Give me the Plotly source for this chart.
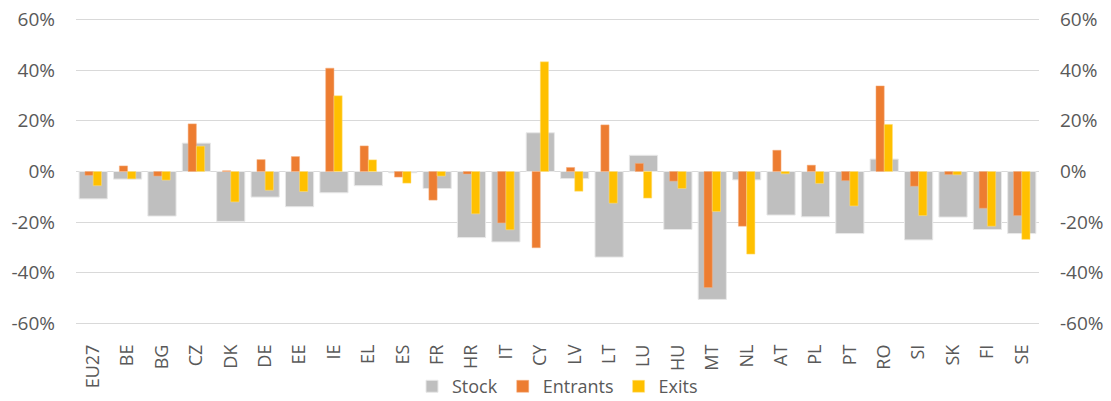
import plotly.graph_objects as go

countries = ["EU27", "BE", "BG", "CZ", "DK", "DE", "EE", "IE", "EL", "ES", "FR", "HR", "IT", "CY",
             "LV", "LT", "LU", "HU", "MT", "NL", "AT", "PL", "PT", "RO", "SI", "SK", "FI", "SE"]

# percent change
stock = [-10.8, -3.0, -17.6, 11.2, -19.7, -10.1, -13.9, -8.4, -5.6, -0.5, -6.7, -26.1, -27.8, 15.3,
         -2.8, -33.8, 6.4, -22.9, -50.5, -3.3, -17.2, -17.9, -24.5, 4.9, -27.0, -18.0, -22.9, -24.5]
entrants = [-1.5, 2.2, -1.8, 18.8, 0.3, 4.7, 5.9, 40.8, 10.1, -2.2, -11.3, -1.0, -20.3, -30.1,
            1.6, 18.4, 3.2, -3.8, -45.8, -21.6, 8.4, 2.5, -3.6, 33.8, -5.8, -1.2, -14.5, -17.4]
exits = [-5.6, -2.9, -3.4, 10.0, -12.0, -7.4, -7.9, 29.9, 4.6, -4.6, -1.8, -16.7, -23.0, 43.3,
         -7.8, -12.5, -10.5, -6.7, -15.8, -32.6, -0.9, -4.7, -13.6, 18.6, -17.4, -1.3, -21.6, -26.8]
yticks = [-60, -40, -20, 0, 20, 40, 60]
ylabels = ["-60%", "-40%", "-20%", "0%", "20%", "40%", "60%"]

txt = "#595959"
fnt = "Open Sans"

fig = go.Figure()
fig.add_trace(go.Bar(x=countries, y=stock, name="Stock", marker_color="#bfbfbf",
                     marker_line=dict(color="#e8e8e8", width=1),
                     width=0.82, offset=-0.41))
fig.add_trace(go.Bar(x=countries, y=entrants, name="Entrants", marker_color="#ed7d31",
                     marker_line=dict(color="#f4b183", width=0.5),
                     width=0.24, offset=-0.24, yaxis="y2"))
fig.add_trace(go.Bar(x=countries, y=exits, name="Exits", marker_color="#ffc000",
                     marker_line=dict(color="#ffe082", width=0.5),
                     width=0.24, offset=0.0, yaxis="y2"))

# a little padding so the +-60% gridlines are kept
yax = dict(range=[-60.6, 60.6], tickvals=yticks, ticktext=ylabels, automargin=False,
           tickfont=dict(size=19, color=txt, family=fnt), zeroline=False, ticklabelstandoff=20,
           ticklabeloverflow="allow")

fig.update_layout(
    width=1111, height=401,
    barmode="overlay",
    plot_bgcolor="white", paper_bgcolor="white",
    margin=dict(l=76, r=72, t=18, b=76, autoexpand=False),
    font=dict(family=fnt, color=txt),
    xaxis=dict(range=[-0.5, 27.5], tickangle=-90, tickfont=dict(size=18, color=txt, family=fnt),
               showgrid=False, ticks="", showline=False, automargin=False, ticklabelstandoff=15),
    yaxis=dict(**yax, showgrid=True, gridcolor="#d9d9d9", gridwidth=1),
    yaxis2=dict(**yax, overlaying="y", side="right", showgrid=False),
    legend=dict(orientation="h", x=0.5, xanchor="center", y=0.036, yanchor="middle", yref="container",
                font=dict(size=18, color=txt, family=fnt), traceorder="normal",
                bgcolor="rgba(0,0,0,0)"),
    showlegend=True,
)

# drop the default 8px body margin so the figure sits at the window corner
fig.write_html("out.html", config={"displayModeBar": False},
               post_script="document.body.style.margin='0';")
